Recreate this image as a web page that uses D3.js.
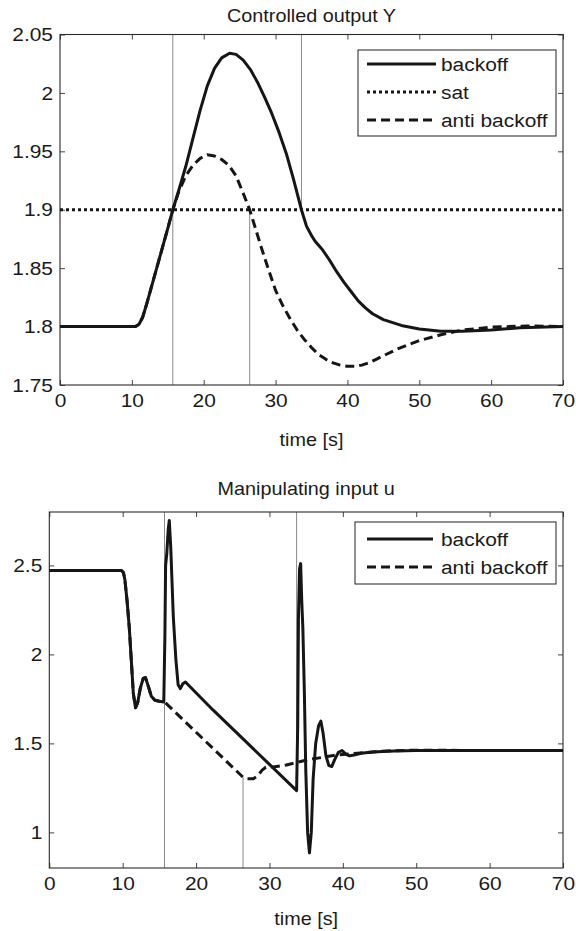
<!DOCTYPE html>
<html>
<head>
<meta charset="utf-8">
<script src="https://cdn.jsdelivr.net/npm/d3@7"></script>
<style>
  html, body { margin: 0; padding: 0; background: #fff; }
  svg { display: block; }
  text { font-family: "Liberation Sans", Arial, Helvetica, sans-serif; fill: #1a1a1a; }
</style>
</head>
<body>
<svg id="chart" width="576" height="931"></svg>
<script>
// ---------------- DATA ----------------
const xTicks = [0, 10, 20, 30, 40, 50, 60, 70];

// Top plot: Controlled output Y
const yTopTicks = [1.75, 1.8, 1.85, 1.9, 1.95, 2, 2.05];
const yTopTickLabels = ["1.75", "1.8", "1.85", "1.9", "1.95", "2", "2.05"];
const satLevel = 1.9;

const yBackoffT = [0, 10, 10.5, 11, 11.5, 12, 13, 14, 15, 15.7, 16.5, 17.5, 18.5, 19.5, 20.5, 21.5, 22.5, 23.6, 24.5, 25.5, 26.5, 27.5, 28.5, 29.5, 30.5, 31.5, 32.5, 33.6, 34.3, 35, 35.5, 36.5, 37.5, 38.5, 39.5, 40.5, 41.5, 42.5, 43.5, 45, 47.5, 50, 53, 56, 60, 64, 70];
const yBackoffV = [1.8, 1.8, 1.8, 1.802, 1.808, 1.818, 1.84, 1.862, 1.884, 1.9, 1.916, 1.937, 1.961, 1.985, 2.006, 2.021, 2.030, 2.034, 2.033, 2.028, 2.02, 2.009, 1.996, 1.982, 1.966, 1.948, 1.926, 1.9, 1.886, 1.878, 1.873, 1.866, 1.857, 1.847, 1.838, 1.83, 1.822, 1.816, 1.811, 1.806, 1.801, 1.798, 1.796, 1.796, 1.797, 1.799, 1.8];

const yAntiT = [0, 10, 10.5, 11, 11.5, 12, 13, 14, 15, 15.7, 16.5, 17.5, 18.5, 19.5, 20.5, 21.5, 22.5, 23.5, 24.5, 25.5, 26.4, 27, 28, 29, 30, 31, 32, 33, 34, 35, 36, 37, 38, 39, 40, 41, 42, 43, 44, 45, 47, 50, 53, 56, 60, 65, 70];
const yAntiV = [1.8, 1.8, 1.8, 1.802, 1.808, 1.818, 1.84, 1.862, 1.884, 1.9, 1.915, 1.929, 1.938, 1.944, 1.947, 1.946, 1.943, 1.938, 1.929, 1.914, 1.9, 1.888, 1.868, 1.849, 1.831, 1.818, 1.807, 1.797, 1.789, 1.782, 1.776, 1.772, 1.769, 1.767, 1.766, 1.766, 1.767, 1.769, 1.772, 1.775, 1.781, 1.788, 1.793, 1.797, 1.7995, 1.8005, 1.8];

// Bottom plot: Manipulating input u
const yBotTicks = [1, 1.5, 2, 2.5];
const yBotTickLabels = ["1", "1.5", "2", "2.5"];

const uBackoffT = [0, 9.8, 10.1, 10.3, 10.6, 10.9, 11.2, 11.45, 11.75, 12.05, 12.4, 12.8, 13.1, 13.5, 13.9, 14.4, 15.0, 15.6, 15.75, 15.85, 16.0, 16.2, 16.35, 16.55, 16.9, 17.25, 17.55, 17.85, 18.2, 18.55, 22.3, 33.7, 33.85, 33.95, 34.1, 34.25, 34.4, 34.55, 34.75, 34.95, 35.2, 35.45, 35.7, 35.95, 36.3, 36.7, 37.0, 37.3, 37.7, 38.1, 38.5, 38.9, 39.4, 39.9, 40.4, 40.9, 41.5, 42.5, 44, 47, 50, 60, 70];
const uBackoffV = [2.472, 2.472, 2.46, 2.42, 2.3, 2.15, 1.95, 1.78, 1.70, 1.73, 1.81, 1.865, 1.87, 1.82, 1.765, 1.742, 1.737, 1.733, 2.1, 2.5, 2.56, 2.7, 2.752, 2.6, 2.21, 1.97, 1.83, 1.808, 1.835, 1.845, 1.688, 1.235, 1.6, 2.2, 2.48, 2.51, 2.3, 2.15, 1.8, 1.35, 1.0, 0.885, 1.0, 1.3, 1.5, 1.6, 1.625, 1.56, 1.43, 1.375, 1.37, 1.41, 1.45, 1.46, 1.44, 1.43, 1.435, 1.445, 1.452, 1.457, 1.46, 1.46, 1.46];

const uAntiT = [0, 9.8, 10.1, 10.3, 10.6, 10.9, 11.2, 11.45, 11.75, 12.05, 12.4, 12.8, 13.1, 13.5, 13.9, 14.4, 15.0, 15.7, 26.4, 27.0, 27.8, 28.4, 29.0, 29.5, 30.5, 32.3, 35.1, 39.2, 42, 46, 50, 60, 70];
const uAntiV = [2.472, 2.472, 2.46, 2.42, 2.3, 2.15, 1.95, 1.78, 1.70, 1.73, 1.81, 1.865, 1.87, 1.82, 1.765, 1.742, 1.737, 1.733, 1.31, 1.302, 1.302, 1.318, 1.35, 1.366, 1.368, 1.379, 1.407, 1.435, 1.445, 1.458, 1.462, 1.46, 1.46];

// Vertical marker lines (time, from value, to value)
const topMarkerT = [15.7, 26.4, 33.6];
const topMarkerFrom = [1.75, 1.75, 1.9];
const topMarkerTo = [2.05, 1.9, 2.05];
const botMarkerT = [15.7, 26.4, 33.7];
const botMarkerFrom = [0.8, 0.8, 1.235];
const botMarkerTo = [2.8, 1.31, 2.8];

const topLegendLabels = ["backoff", "sat", "anti backoff"];
const botLegendLabels = ["backoff", "anti backoff"];

// ---------------- STYLE / LAYOUT ----------------
const FONT = 19;
const SX = 1.1;          // horizontal stretch of the original figure text
const LINE_W = 3;
const INK = "#161616";
const dashAnti = "9,5";
const dashSat = "3,3";

const svg = d3.select("#chart");

function zip(ts, vs) { return ts.map((t, i) => [t, vs[i]]); }

function addText(x, y, str, size, anchor, dy) {
  return svg.append("text")
    .attr("transform", `translate(${x},${y}) scale(${SX},1)`)
    .attr("text-anchor", anchor || "start")
    .attr("dy", dy || null)
    .attr("font-size", size).text(str);
}

function panel(opts) {
  const { left, right, top, bottom, yDomain, yTicks, yLabels, title, titleY, xLabelY } = opts;
  const x = d3.scaleLinear().domain([0, 70]).range([left, right]);
  const y = d3.scaleLinear().domain(yDomain).range([bottom, top]);
  const g = svg.append("g");

  const id = "clip" + Math.round(top);
  svg.append("clipPath").attr("id", id).append("rect")
    .attr("x", left).attr("y", top).attr("width", right - left).attr("height", bottom - top);

  // marker lines
  const mk = g.append("g").attr("clip-path", `url(#${id})`);
  opts.markerT.forEach((t, i) => {
    mk.append("line")
      .attr("x1", x(t)).attr("x2", x(t))
      .attr("y1", y(opts.markerFrom[i])).attr("y2", y(opts.markerTo[i]))
      .attr("stroke", "#8a8a8a").attr("stroke-width", 1);
  });

  // axes with inward ticks
  const axB = d3.axisBottom(x).tickValues(xTicks).tickFormat(d3.format("d"))
    .tickSizeInner(-5).tickSizeOuter(0).tickPadding(9);
  const axT = d3.axisTop(x).tickValues(xTicks).tickFormat("")
    .tickSizeInner(-5).tickSizeOuter(0);
  const axL = d3.axisLeft(y).tickValues(yTicks).tickFormat((d, i) => yLabels[i])
    .tickSizeInner(-5).tickSizeOuter(0).tickPadding(7);
  const axR = d3.axisRight(y).tickValues(yTicks).tickFormat("")
    .tickSizeInner(-5).tickSizeOuter(0);

  const styleAxis = sel => {
    sel.select(".domain").remove();
    sel.selectAll(".tick line").attr("stroke", "#444").attr("stroke-width", 1);
    sel.selectAll(".tick text").attr("font-size", FONT)
      .attr("font-family", '"Liberation Sans", Arial, sans-serif').attr("fill", "#1a1a1a")
      .attr("transform", `scale(${SX},1)`)
      .attr("x", function () { return +d3.select(this).attr("x") / SX; });
  };
  g.append("g").attr("transform", `translate(0,${bottom})`).call(axB).call(styleAxis);
  g.append("g").attr("transform", `translate(0,${top})`).call(axT).call(styleAxis);
  g.append("g").attr("transform", `translate(${left},0)`).call(axL).call(styleAxis);
  g.append("g").attr("transform", `translate(${right},0)`).call(axR).call(styleAxis);

  // frame
  g.append("rect").attr("x", left).attr("y", top)
    .attr("width", right - left).attr("height", bottom - top)
    .attr("fill", "none").attr("stroke", "#2a2a2a").attr("stroke-width", 1.1);

  // series
  const line = d3.line().x(d => x(d[0])).y(d => y(d[1]));
  const sg = g.append("g").attr("clip-path", `url(#${id})`);
  opts.series.forEach(s => {
    sg.append("path").datum(s.data).attr("d", line)
      .attr("fill", "none").attr("stroke", INK).attr("stroke-width", LINE_W)
      .attr("stroke-linejoin", "round")
      .attr("stroke-dasharray", s.dash || null);
  });

  // title and x label
  addText((left + right) / 2, titleY, title, FONT - 1, "middle");
  addText((left + right) / 2, xLabelY, "time [s]", FONT - 1, "middle");

  // legend
  const L = opts.legend;
  const lg = svg.append("g");
  lg.append("rect").attr("x", L.x0).attr("y", L.y0).attr("width", L.x1 - L.x0).attr("height", L.y1 - L.y0)
    .attr("fill", "#fff").attr("stroke", "#222").attr("stroke-width", 1);
  L.labels.forEach((lab, i) => {
    const yy = L.rowY[i];
    lg.append("line").attr("x1", L.lx0).attr("x2", L.lx1).attr("y1", yy).attr("y2", yy)
      .attr("stroke", INK).attr("stroke-width", LINE_W)
      .attr("stroke-dasharray", L.dashes[i] || null);
    addText(L.tx, yy, lab, FONT, "start", "0.35em");
  });
}

panel({
  left: 60, right: 563, top: 34.5, bottom: 385,
  yDomain: [1.75, 2.05], yTicks: yTopTicks, yLabels: yTopTickLabels,
  title: "Controlled output Y", titleY: 22, xLabelY: 446,
  markerT: topMarkerT, markerFrom: topMarkerFrom, markerTo: topMarkerTo,
  series: [
    { data: zip(yBackoffT, yBackoffV) },
    { data: [[0, satLevel], [70, satLevel]], dash: dashSat },
    { data: zip(yAntiT, yAntiV), dash: dashAnti }
  ],
  legend: { x0: 358, x1: 556, y0: 50, y1: 136, rowY: [64, 92, 120], lx0: 367, lx1: 436, tx: 441,
            labels: topLegendLabels, dashes: [null, dashSat, dashAnti] }
});

panel({
  left: 49.3, right: 563, top: 512, bottom: 868,
  yDomain: [0.8, 2.8], yTicks: yBotTicks, yLabels: yBotTickLabels,
  title: "Manipulating input u", titleY: 495, xLabelY: 925,
  markerT: botMarkerT, markerFrom: botMarkerFrom, markerTo: botMarkerTo,
  series: [
    { data: zip(uBackoffT, uBackoffV) },
    { data: zip(uAntiT, uAntiV), dash: dashAnti }
  ],
  legend: { x0: 355, x1: 556, y0: 522, y1: 584, rowY: [539, 567], lx0: 367, lx1: 433, tx: 441,
            labels: botLegendLabels, dashes: [null, dashAnti] }
});
</script>
</body>
</html>
